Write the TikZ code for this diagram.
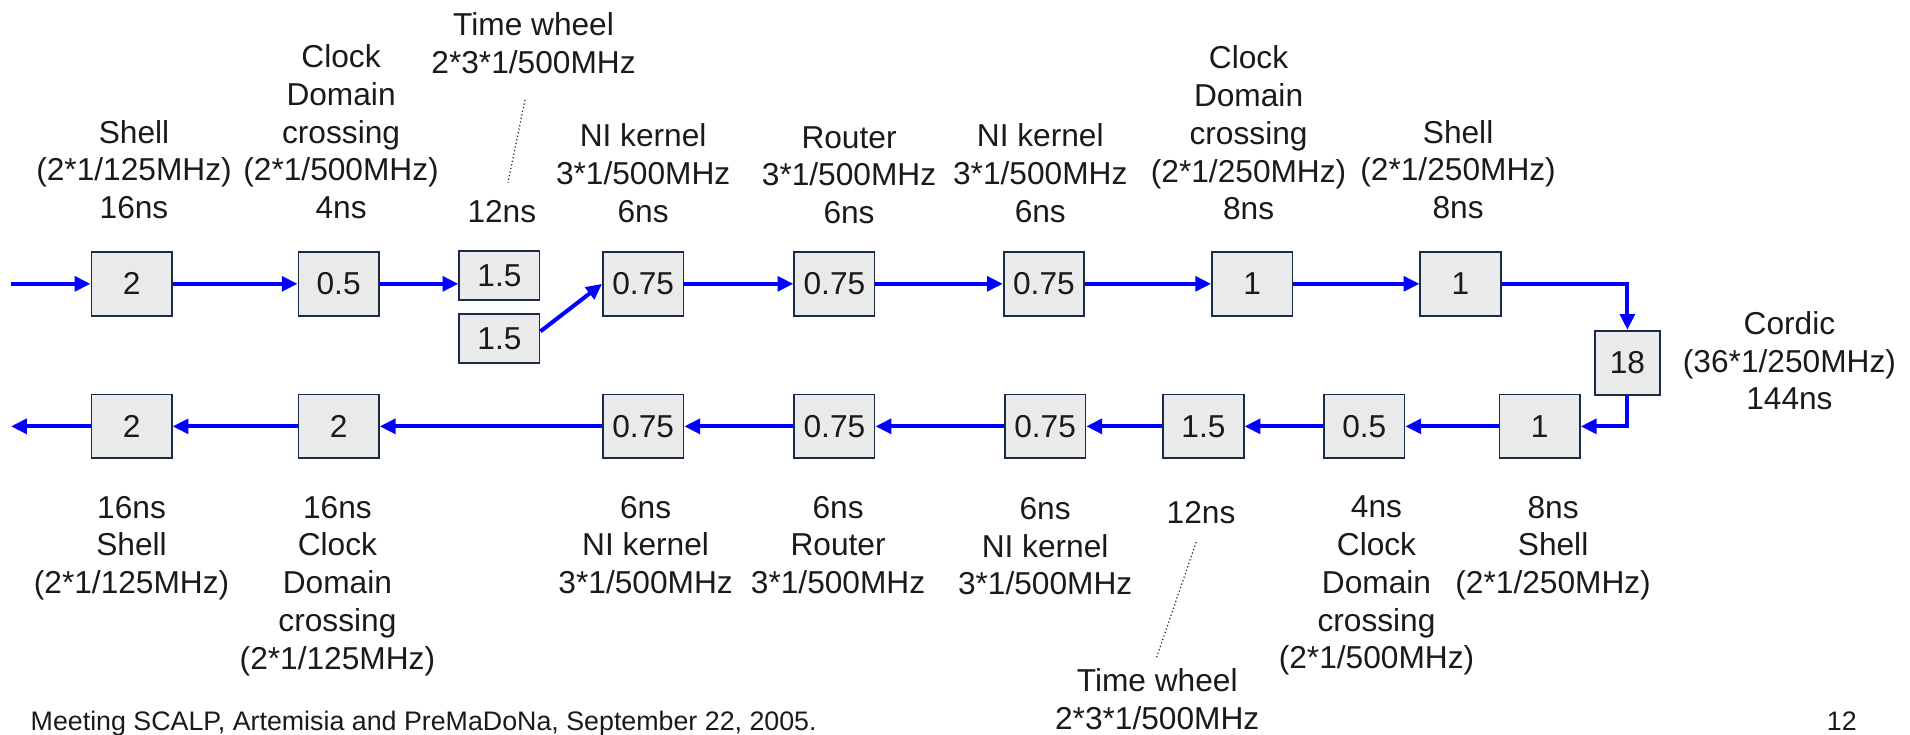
\documentclass[tikz,border=0pt]{standalone}
\usepackage{fontspec}
\setmainfont{Liberation Sans}
\usetikzlibrary{arrows.meta}
\definecolor{boxfill}{HTML}{EAEAEA}
\definecolor{boxline}{HTML}{1A2A4A}
\definecolor{txt}{HTML}{1A1A1A}
\definecolor{flow}{HTML}{0000FF}
\begin{document}
\begin{tikzpicture}[x=1pt,y=-1pt,
  stage/.style={draw=boxline, fill=boxfill, line width=1.4pt, minimum width=66pt, minimum height=52.5pt, inner sep=0pt, font=\fontsize{26}{31}\selectfont, text=txt},
  halfstage/.style={stage, minimum height=40pt},
  cordicstage/.style={stage, minimum width=53pt, minimum height=53pt},
  lbl/.style={align=center, inner sep=0pt, font=\fontsize{26}{31}\selectfont, text=txt},
  foot/.style={inner sep=0pt, font=\fontsize{22}{26}\selectfont, text=txt},
  flowline/.style={draw=flow, line width=3.3pt, -{Triangle[length=13pt,width=12pt]}},
  note/.style={draw=boxline, line width=1pt, dotted}
]
\useasboundingbox (0,0) rectangle (1568,603);
% top row
\node[stage] (t1) at (108,233) {2};
\node[stage] (t2) at (278,233) {0.5};
\node[halfstage] (t3a) at (410,226) {1.5};
\node[halfstage] (t3b) at (410,278) {1.5};
\node[stage] (t4) at (528,233) {0.75};
\node[stage] (t5) at (685,233) {0.75};
\node[stage] (t6) at (857,233) {0.75};
\node[stage] (t7) at (1028,233) {1};
\node[stage] (t8) at (1199,233) {1};
\node[cordicstage] (c) at (1336,298) {18};
% bottom row
\node[stage] (b1) at (1264,350) {1};
\node[stage] (b2) at (1120,350) {0.5};
\node[stage] (b3) at (988,350) {1.5};
\node[stage] (b4) at (858,350) {0.75};
\node[stage] (b5) at (685,350) {0.75};
\node[stage] (b6) at (528,350) {0.75};
\node[stage] (b7) at (278,350) {2};
\node[stage] (b8) at (108,350) {2};
\coordinate (in) at (9,233);
\coordinate (out) at (9,350);
% connectors
\draw[flowline] (in) -- (t1.west);
\draw[flowline] (t1) -- (t2);
\draw[flowline] (t2.east) -- (t2.east -| t3a.west);
\draw[flowline] ([yshift=6pt]t3b.east) -- (t4.west);
\draw[flowline] (t4) -- (t5);
\draw[flowline] (t5) -- (t6);
\draw[flowline] (t6) -- (t7);
\draw[flowline] (t7) -- (t8);
\draw[flowline] (t8.east) -| (c.north);
\draw[flowline] (c.south) |- (b1.east);
\draw[flowline] (b1) -- (b2);
\draw[flowline] (b2) -- (b3);
\draw[flowline] (b3) -- (b4);
\draw[flowline] (b4) -- (b5);
\draw[flowline] (b5) -- (b6);
\draw[flowline] (b6) -- (b7);
\draw[flowline] (b7) -- (b8);
\draw[flowline] (b8.west) -- (out);
% top labels
\node[lbl, anchor=south] (lt1) at (110,180) {Shell\\(2*1/125MHz)\\16ns};
\node[lbl, anchor=south] (lt2) at (280,180) {Clock\\Domain\\crossing\\(2*1/500MHz)\\4ns};
\node[lbl, anchor=south] (lt3) at (412,183) {12ns};
\node[lbl, anchor=south] (lt3w) at (438,61) {Time wheel\\2*3*1/500MHz};
\node[lbl, anchor=south] (lt4) at (528,183) {NI kernel\\3*1/500MHz\\6ns};
\node[lbl, anchor=south] (lt5) at (697,184) {Router\\3*1/500MHz\\6ns};
\node[lbl, anchor=south] (lt6) at (854,183) {NI kernel\\3*1/500MHz\\6ns};
\node[lbl, anchor=south] (lt7) at (1025,181) {Clock\\Domain\\crossing\\(2*1/250MHz)\\8ns};
\node[lbl, anchor=south] (lt8) at (1197,180) {Shell\\(2*1/250MHz)\\8ns};
\node[lbl, anchor=south] (lc) at (1469,337) {Cordic\\(36*1/250MHz)\\144ns};
% bottom labels
\node[lbl, anchor=north] (lb1) at (1275,407) {8ns\\Shell\\(2*1/250MHz)};
\node[lbl, anchor=north] (lb2) at (1130,407) {4ns\\Clock\\Domain\\crossing\\(2*1/500MHz)};
\node[lbl, anchor=north] (lb3) at (986,411) {12ns};
\node[lbl, anchor=north] (lb3w) at (950,549) {Time wheel\\2*3*1/500MHz};
\node[lbl, anchor=north] (lb4) at (858,408) {6ns\\NI kernel\\3*1/500MHz};
\node[lbl, anchor=north] (lb5) at (688,407) {6ns\\Router\\3*1/500MHz};
\node[lbl, anchor=north] (lb6) at (530,407) {6ns\\NI kernel\\3*1/500MHz};
\node[lbl, anchor=north] (lb7) at (277,407) {16ns\\Clock\\Domain\\crossing\\(2*1/125MHz)};
\node[lbl, anchor=north] (lb8) at (108,407) {16ns\\Shell\\(2*1/125MHz)};
% dotted pointers
\coordinate (tw1) at (431,82);
\coordinate (tw2) at (417,150);
\coordinate (tw3) at (982,445);
\coordinate (tw4) at (949,541);
\draw[note] (tw1) -- (tw2);
\draw[note] (tw3) -- (tw4);
% footer
\node[foot, anchor=base west] (ft) at (25,600) {Meeting SCALP, Artemisia and PreMaDoNa, September 22, 2005.};
\node[foot, anchor=base] (pg) at (1512,600) {12};
\end{tikzpicture}
\end{document}
